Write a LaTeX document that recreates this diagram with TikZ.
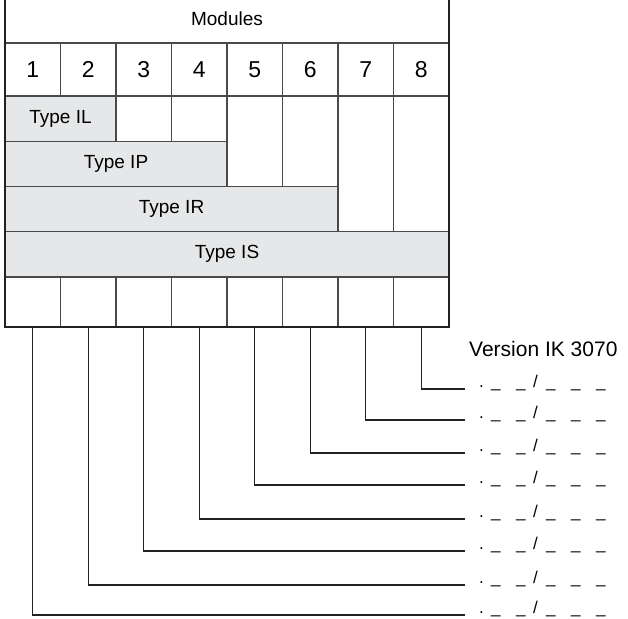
\documentclass[tikz,border=0pt]{standalone}
\usepackage{fontspec}
\setmainfont{Liberation Sans}
\definecolor{typefill}{HTML}{E6E7E8}
\definecolor{cellline}{HTML}{4A4A4A}
\definecolor{frameline}{HTML}{222222}
% one version code: dot, two slots, slash, three slots
\newcommand{\codeslots}{\makebox[12pt][l]{.}\makebox[25pt][l]{\_}\makebox[17pt][l]{\_}\makebox[13pt][l]{/}\makebox[25pt][l]{\_}\makebox[25pt][l]{\_}\_}
\begin{document}
\begin{tikzpicture}[x=1pt,y=-1pt,
  cell/.style={draw=cellline, line width=1.1pt, anchor=north west, inner sep=0pt, outer sep=0pt,
    minimum width=#1*55.5pt},
  cell/.default=1,
  numcell/.style={cell, minimum height=53pt, font=\fontsize{23}{23}\selectfont},
  typecell/.style={cell=#1, fill=typefill, minimum height=45.3pt, font=\fontsize{19}{19}\selectfont},
  conn/.style={draw=frameline, line width=1.3pt},
  code/.style={inner sep=0pt, font=\fontsize{17}{17}\selectfont}
]
\clip (0,0) rectangle (628,618);

% header row
\node[cell=8, minimum height=49pt, font=\fontsize{19}{19}\selectfont] (mod) at (5,-6) {Modules};

% module numbers
\foreach \i in {1,...,8}
  \node[numcell] (n\i) at ({5+55.5*(\i-1)},43) {\i};

% empty cells beside the type bars
\node[cell, minimum height=45.3pt] (f3) at (116,96) {};
\node[cell, minimum height=45.3pt] (f4) at (171.5,96) {};
\node[cell, minimum height=90.3pt] (f5) at (227,96) {};
\node[cell, minimum height=90.3pt] (f6) at (282.5,96) {};
\node[cell, minimum height=135.3pt] (f7) at (338,96) {};
\node[cell, minimum height=135.3pt] (f8) at (393.5,96) {};

% type bars
\node[typecell=2] (il) at (5,96) {Type IL};
\node[typecell=4] (ip) at (5,141.3) {Type IP};
\node[typecell=6] (ir) at (5,186.6) {Type IR};
\node[typecell=8] (is) at (5,231.5) {Type IS};

% bottom cells
\foreach \i in {1,...,8}
  \node[cell, minimum height=50pt] (b\i) at ({5+55.5*(\i-1)},277) {};

% outer frame
\draw[draw=frameline, line width=2pt] (5,-6) rectangle (449,327);

% version caption
\node[inner sep=0pt, anchor=west, font=\fontsize{21}{21}\selectfont] (ver) at (469,349) {Version IK 3070};

% leader lines to the version codes
\foreach \i/\y in {1/615,2/585,3/551,4/519,5/485,6/453,7/420,8/389} {
  \coordinate (e\i) at (465,\y);
  \draw[conn] (b\i.south) |- (e\i);
  \node[code, anchor=base west] (c\i) at ([xshift=14pt, yshift=1.5pt]e\i) {\codeslots};
}
\end{tikzpicture}
\end{document}
